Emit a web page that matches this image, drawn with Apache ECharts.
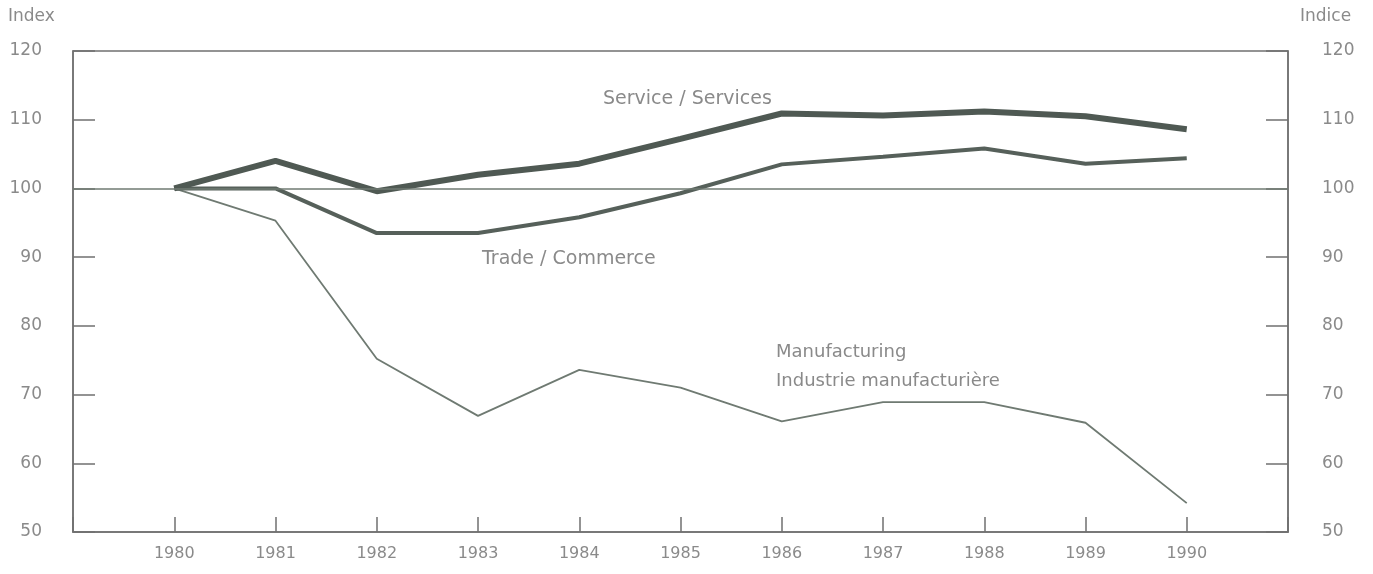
<!DOCTYPE html>
<html>
<head>
<meta charset="utf-8">
<script src="https://cdn.jsdelivr.net/npm/echarts@6/dist/echarts.min.js"></script>
<style>
html,body{margin:0;padding:0;background:#ffffff;}
#chart{width:1373px;height:574px;}
</style>
</head>
<body>
<div id="chart"></div>
<script>
var years = [1980, 1981, 1982, 1983, 1984, 1985, 1986, 1987, 1988, 1989, 1990];
var services = [100, 104.0, 99.6, 102.0, 103.6, 107.2, 110.9, 110.6, 111.2, 110.5, 108.6];
var trade = [100, 100, 93.5, 93.5, 95.8, 99.3, 103.5, 104.6, 105.8, 103.6, 104.4];
var manufacturing = [100, 95.3, 75.2, 66.9, 73.6, 71.0, 66.1, 68.9, 68.9, 65.9, 54.2];
var yTicks = [50, 60, 70, 80, 90, 100, 110, 120];
var labelsText = {
  services: 'Service / Services',
  trade: 'Trade / Commerce',
  manuf1: 'Manufacturing',
  manuf2: 'Industrie manufacturière',
  left: 'Index',
  right: 'Indice'
};

function pairs(vals) {
  return years.map(function (y, i) { return [y, vals[i]]; });
}

var chart = echarts.init(document.getElementById('chart'), null, {renderer: 'canvas'});
var txtColor = '#8a8a8a';
var axisColor = '#707070';
var fontFam = 'DejaVu Sans';

var option = {
  backgroundColor: '#ffffff',
  animation: false,
  grid: {
    left: 73, right: 85, top: 51, bottom: 42,
    show: true, borderColor: axisColor, borderWidth: 1.5, backgroundColor: 'transparent'
  },
  xAxis: {
    type: 'value', min: 1979, max: 1991, interval: 1,
    axisLine: {show: true, lineStyle: {color: axisColor, width: 1.5}},
    axisTick: {show: true, inside: true, length: 15, lineStyle: {color: axisColor, width: 1.5}},
    splitLine: {show: false},
    axisLabel: {
      color: txtColor, fontFamily: fontFam, fontSize: 16, margin: 14,
      formatter: function (v) { return (v >= 1980 && v <= 1990) ? String(v) : ''; }
    }
  },
  yAxis: [{
    type: 'value', min: 50, max: 120, interval: 10, position: 'left',
    axisLine: {show: true, lineStyle: {color: axisColor, width: 1.5}},
    axisTick: {show: true, inside: true, length: 22, lineStyle: {color: axisColor, width: 1.5}},
    splitLine: {show: false},
    axisLabel: {color: txtColor, fontFamily: fontFam, fontSize: 17, margin: 31}
  }, {
    type: 'value', min: 50, max: 120, interval: 10, position: 'right',
    axisLine: {show: true, lineStyle: {color: axisColor, width: 1.5}},
    axisTick: {show: true, inside: true, length: 22, lineStyle: {color: axisColor, width: 1.5}},
    splitLine: {show: false},
    axisLabel: {color: txtColor, fontFamily: fontFam, fontSize: 17, margin: 34}
  }],
  series: [{
    name: 'Manufacturing', type: 'line', data: pairs(manufacturing),
    symbol: 'none', lineStyle: {color: '#6f7a72', width: 1.8},
    markLine: {
      silent: true, symbol: 'none', label: {show: false},
      lineStyle: {color: '#6f7a72', width: 1.5, type: 'solid'},
      data: [{yAxis: 100}]
    }
  }, {
    name: 'Trade', type: 'line', data: pairs(trade),
    symbol: 'none', lineStyle: {color: '#56605a', width: 4}
  }, {
    name: 'Services', type: 'line', data: pairs(services),
    symbol: 'none', lineStyle: {color: '#4f5953', width: 6}
  }],
  graphic: [
    {type: 'text', left: 603, top: 90, style: {text: labelsText.services, fill: txtColor, font: '19px "DejaVu Sans"'}},
    {type: 'text', left: 482, top: 250, style: {text: labelsText.trade, fill: txtColor, font: '19px "DejaVu Sans"'}},
    {type: 'text', left: 776, top: 343, style: {text: labelsText.manuf1, fill: txtColor, font: '18px "DejaVu Sans"'}},
    {type: 'text', left: 776, top: 372, style: {text: labelsText.manuf2, fill: txtColor, font: '18px "DejaVu Sans"'}},
    {type: 'text', left: 8, top: 8, style: {text: labelsText.left, fill: txtColor, font: '17px "DejaVu Sans"'}},
    {type: 'text', left: 1300, top: 8, style: {text: labelsText.right, fill: txtColor, font: '17px "DejaVu Sans"'}}
  ]
};
chart.setOption(option);
</script>
</body>
</html>
